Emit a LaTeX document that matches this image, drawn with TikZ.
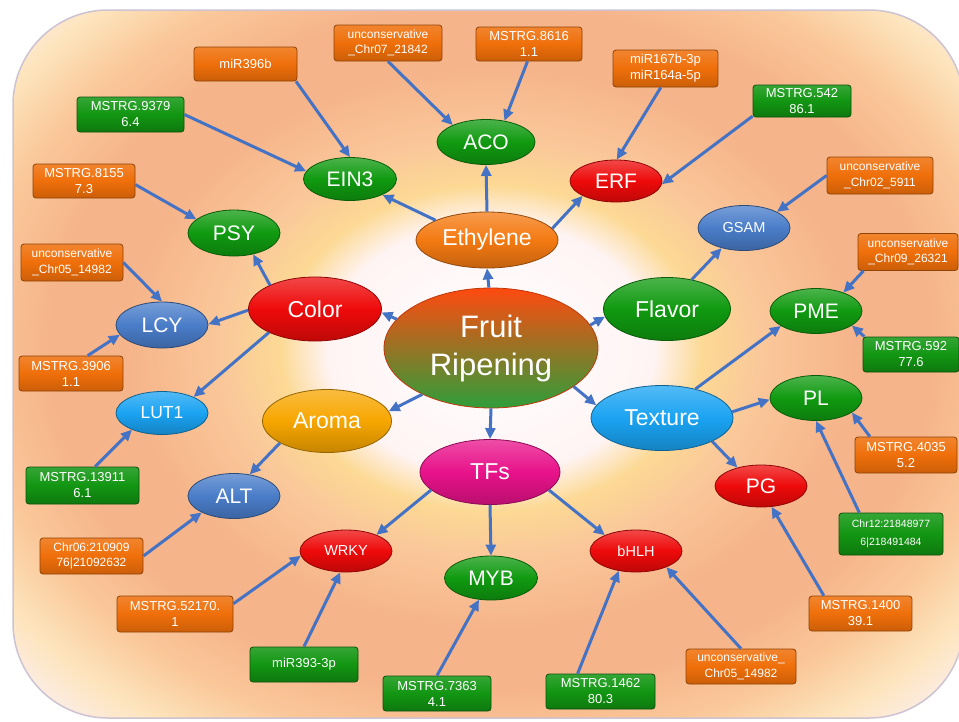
\documentclass[tikz,border=0pt]{standalone}
\usepackage{fontspec}
\setmainfont{Liberation Sans}
\usetikzlibrary{arrows.meta,shapes.geometric}
\definecolor{cgreen}{HTML}{109A10}
\definecolor{cred}{HTML}{EE0A0A}
\definecolor{corange}{HTML}{F47A12}
\definecolor{cblue}{HTML}{4A7DC9}
\definecolor{clblue}{HTML}{1AA3F2}
\definecolor{camber}{HTML}{F7A600}
\definecolor{cmag}{HTML}{E8128A}
\definecolor{boxor}{HTML}{EF6F0A}
\definecolor{boxgr}{HTML}{129612}
\definecolor{arrblue}{HTML}{4472C4}
\definecolor{frtop}{HTML}{FF4A10}
\definecolor{frbot}{HTML}{2E9E3A}
\definecolor{bgA}{HTML}{FFF4F4}
\definecolor{bgY}{HTML}{FCD994}
\definecolor{bgP}{HTML}{FAC89A}
\definecolor{bgS}{HTML}{F6B48A}
\definecolor{bgL}{HTML}{FDE4BC}
\definecolor{bgE}{HTML}{FCF0F0}
\pgfdeclareradialshading{bgshade}{\pgfpoint{0bp}{0bp}}{color(0bp)=(white); color(8.5bp)=(bgA); color(11bp)=(bgY); color(14bp)=(bgP); color(19bp)=(bgS); color(23bp)=(bgS); color(27bp)=(bgP); color(30.5bp)=(bgL); color(34bp)=(bgE); color(50bp)=(bgE)}
\newcommand{\catfont}{\fontsize{23}{27}\selectfont}
\newcommand{\genefont}{\fontsize{21}{25}\selectfont}
\newcommand{\gsmall}{\fontsize{14.5}{17}\selectfont}
\newcommand{\gmid}{\fontsize{17.5}{20}\selectfont}
\newcommand{\frfont}{\fontsize{31}{38}\selectfont}
\newcommand{\boxfont}{\fontsize{13}{16}\selectfont}
\newcommand{\boxsmall}{\fontsize{12}{15.5}\selectfont}
\newcommand{\boxtiny}{\fontsize{10.5}{18}\selectfont}
\begin{document}
\begin{tikzpicture}[x=1pt,y=-1pt,
  ell/.style={ellipse, inner sep=0pt, text=white, align=center, line width=0.8pt,
    draw=#1!60!black, top color=#1!75!white, bottom color=#1!80!black, middle color=#1},
  sz/.style 2 args={minimum width=#1pt, minimum height=#2pt},
  box/.style={rectangle, rounded corners=3pt, inner sep=1pt, text=white, align=center,
    font=\boxfont, line width=0.8pt, minimum height=35pt},
  obox/.style={box, draw=boxor!60!black, top color=boxor!85!white, bottom color=boxor!85!black, middle color=boxor, minimum width=#1pt},
  gbox/.style={box, draw=boxgr!55!black, top color=boxgr!85!white, bottom color=boxgr!80!black, middle color=boxgr, minimum width=#1pt},
  arr/.style={draw=arrblue, line width=3pt, -{Triangle[length=11pt,width=10pt]}}
]
\useasboundingbox (0,0) rectangle (959,721);
% background
\begin{scope}
\clip[rounded corners=95pt] (13,10) rectangle (964,718);
\shade[shading=bgshade] (11,-22) rectangle (971,718);
\end{scope}
\draw[draw={rgb,255:red,205;green,195;blue,210}, line width=1.5pt, rounded corners=95pt] (13,10) rectangle (964,718);

% hub
\node[ellipse, inner sep=0pt, sz={214}{120}, text=white, align=center, font=\frfont,
  top color=frtop, bottom color=frbot, draw=frtop!75!black, line width=0.8pt] (fr) at (491,348) {Fruit\\Ripening};

% categories
\node[ell=corange, sz={142}{56}, font=\catfont] (eth) at (487,240) {Ethylene};
\node[ell=cgreen, sz={127}{63}, font=\catfont] (flavor) at (667,309) {Flavor};
\node[ell=clblue, sz={142}{65}, font=\catfont] (texture) at (662,418) {Texture};
\node[ell=cmag, sz={140}{65}, font=\catfont] (tfs) at (490,472) {TFs};
\node[ell=camber, sz={129}{63}, font=\catfont] (aroma) at (327,421) {Aroma};
\node[ell=cred, sz={133}{64}, font=\catfont] (color) at (315,309) {Color};

% genes
\node[ell=cgreen, sz={98}{45}, font=\genefont] (aco) at (486,142) {ACO};
\node[ell=cgreen, sz={93}{43}, font=\genefont] (ein3) at (350,179) {EIN3};
\node[ell=cred, sz={92}{42}, font=\genefont] (erf) at (616,181) {ERF};
\node[ell=cblue, sz={92}{45}, font=\gsmall] (gsam) at (744,228) {GSAM};
\node[ell=cgreen, sz={92}{45}, font=\genefont] (pme) at (816,311) {PME};
\node[ell=cgreen, sz={92}{45}, font=\genefont] (pl) at (816,398) {PL};
\node[ell=cred, sz={92}{42}, font=\genefont] (pg) at (761,486) {PG};
\node[ell=cred, sz={92}{42}, font=\gsmall] (wrky) at (346,551) {WRKY};
\node[ell=cgreen, sz={93}{44}, font=\genefont] (myb) at (491,578) {MYB};
\node[ell=cred, sz={92}{42}, font=\gsmall] (bhlh) at (636,551) {bHLH};
\node[ell=cgreen, sz={92}{46}, font=\genefont] (psy) at (234,233) {PSY};
\node[ell=cblue, sz={92}{46}, font=\genefont] (lcy) at (162,325) {LCY};
\node[ell=clblue, sz={92}{43}, font=\gmid] (lut1) at (162,413) {LUT1};
\node[ell=cblue, sz={92}{45}, font=\genefont] (alt) at (234,496) {ALT};

% boxes
\node[obox=103, minimum height=34pt] (b396) at (245.5,64) {miR396b};
\node[obox=108, minimum height=36pt, font=\boxsmall] (b07) at (388,43) {unconservative\\\_Chr07\_21842};
\node[obox=106, minimum height=34pt] (b8616) at (529,44) {MSTRG.8616\\1.1};
\node[obox=105, minimum height=37pt] (b167) at (665.5,68.5) {miR167b-3p\\miR164a-5p};
\node[gbox=98, minimum height=32pt] (b542) at (802,101) {MSTRG.542\\86.1};
\node[obox=106, minimum height=37pt, font=\boxsmall] (b02) at (880,175.5) {unconservative\\\_Chr02\_5911};
\node[gbox=107] (b9379) at (130.5,114.5) {MSTRG.9379\\6.4};
\node[obox=102, minimum height=34pt] (b8155) at (84,181) {MSTRG.8155\\7.3};
\node[obox=102, minimum height=37pt, font=\boxsmall] (b05l) at (72,262.5) {unconservative\\\_Chr05\_14982};
\node[obox=104] (b3906) at (71,373.5) {MSTRG.3906\\1.1};
\node[gbox=113, minimum height=37pt] (b13911) at (82.5,485.5) {MSTRG.13911\\6.1};
\node[obox=103, minimum height=36pt, font=\boxsmall] (bchr06) at (91.5,556) {Chr06:210909\\76|21092632};
\node[obox=116, minimum height=36pt] (b52170) at (175,614) {MSTRG.52170.\\1};
\node[gbox=108] (b393) at (304,664.5) {miR393-3p};
\node[gbox=108] (b7363) at (437,693.5) {MSTRG.7363\\4.1};
\node[gbox=109] (b1462) at (600.5,691.5) {MSTRG.1462\\80.3};
\node[obox=110, font=\boxsmall] (b05b) at (741,666.5) {unconservative\_\\Chr05\_14982};
\node[obox=103] (b1400) at (860.5,613.5) {MSTRG.1400\\39.1};
\node[gbox=104, minimum height=42pt, font=\boxtiny] (bchr12) at (891,534) {Chr12:21848977\\6|218491484};
\node[obox=102, minimum height=36pt] (b4035) at (906,455) {MSTRG.4035\\5.2};
\node[gbox=96] (b592) at (911,354.5) {MSTRG.592\\77.6};
\node[obox=100, minimum height=37pt, font=\boxsmall] (b09) at (908,252) {unconservative\\\_Chr09\_26321};

% hub arrows
\draw[arr] (fr.92) -- (eth.south);
\draw[arr] (fr.163) -- (color.-3);
\draw[arr] (fr.13) -- (flavor.187);
\draw[arr] (fr.-25) -- (texture.169);
\draw[arr] (fr.south) -- (tfs.north);
\draw[arr] (fr.214) -- (aroma.9);
% category arrows
\draw[arr] (eth.north) -- (aco.south);
\draw[arr] (eth.159) -- (ein3.-26);
\draw[arr] (eth.10) -- (erf.204);
\draw[arr] (color.152) -- (psy.-48);
\draw[arr] (color.181) -- (lcy.1);
\draw[arr] (color.207) -- (lut1.27);
\draw[arr] (aroma.205) -- (alt.54);
\draw[arr] (flavor.50) -- (gsam.222);
\draw[arr] (texture.41.5) -- (pme.203);
\draw[arr] (texture.5) -- (pl.182);
\draw[arr] (texture.-25) -- (pg.142);
\draw[arr] (tfs.197) -- (wrky.28);
\draw[arr] (tfs.south) -- (myb.north);
\draw[arr] (tfs.-17) -- (bhlh.153);
% box arrows
\draw[arr] (b396.-19) -- (ein3.north);
\draw[arr] (b9379.east) -- (ein3.170);
\draw[arr] (b07.south) -- (aco.153);
\draw[arr] (b8616.265) -- (aco.49);
\draw[arr] (b167.256) -- (erf.88);
\draw[arr] (b542.197) -- (erf.-4);
\draw[arr] (b02.west) -- (gsam.26);
\draw[arr] (b8155.-4) -- (psy.160);
\draw[arr] (b05l.east) -- (lcy.north);
\draw[arr] (b3906.47) -- (lcy.193);
\draw[arr] (b13911.56) -- (lut1.209);
\draw[arr] (bchr06.east) -- (alt.207);
\draw[arr] (b52170.10) -- (wrky.186);
\draw[arr] (b393.north) -- (wrky.255);
\draw[arr] (b7363.north) -- (myb.241);
\draw[arr] (b1462.142) -- (bhlh.229);
\draw[arr] (b05b.north) -- (bhlh.-28.5);
\draw[arr] (b1400.154) -- (pg.-63);
\draw[arr] (bchr12.146) -- (pl.south);
\draw[arr] (b4035.153) -- (pl.-22.5);
\draw[arr] (b592.159) -- (pme.-22.6);
\draw[arr] (b09.203) -- (pme.34.6);
\end{tikzpicture}
\end{document}
